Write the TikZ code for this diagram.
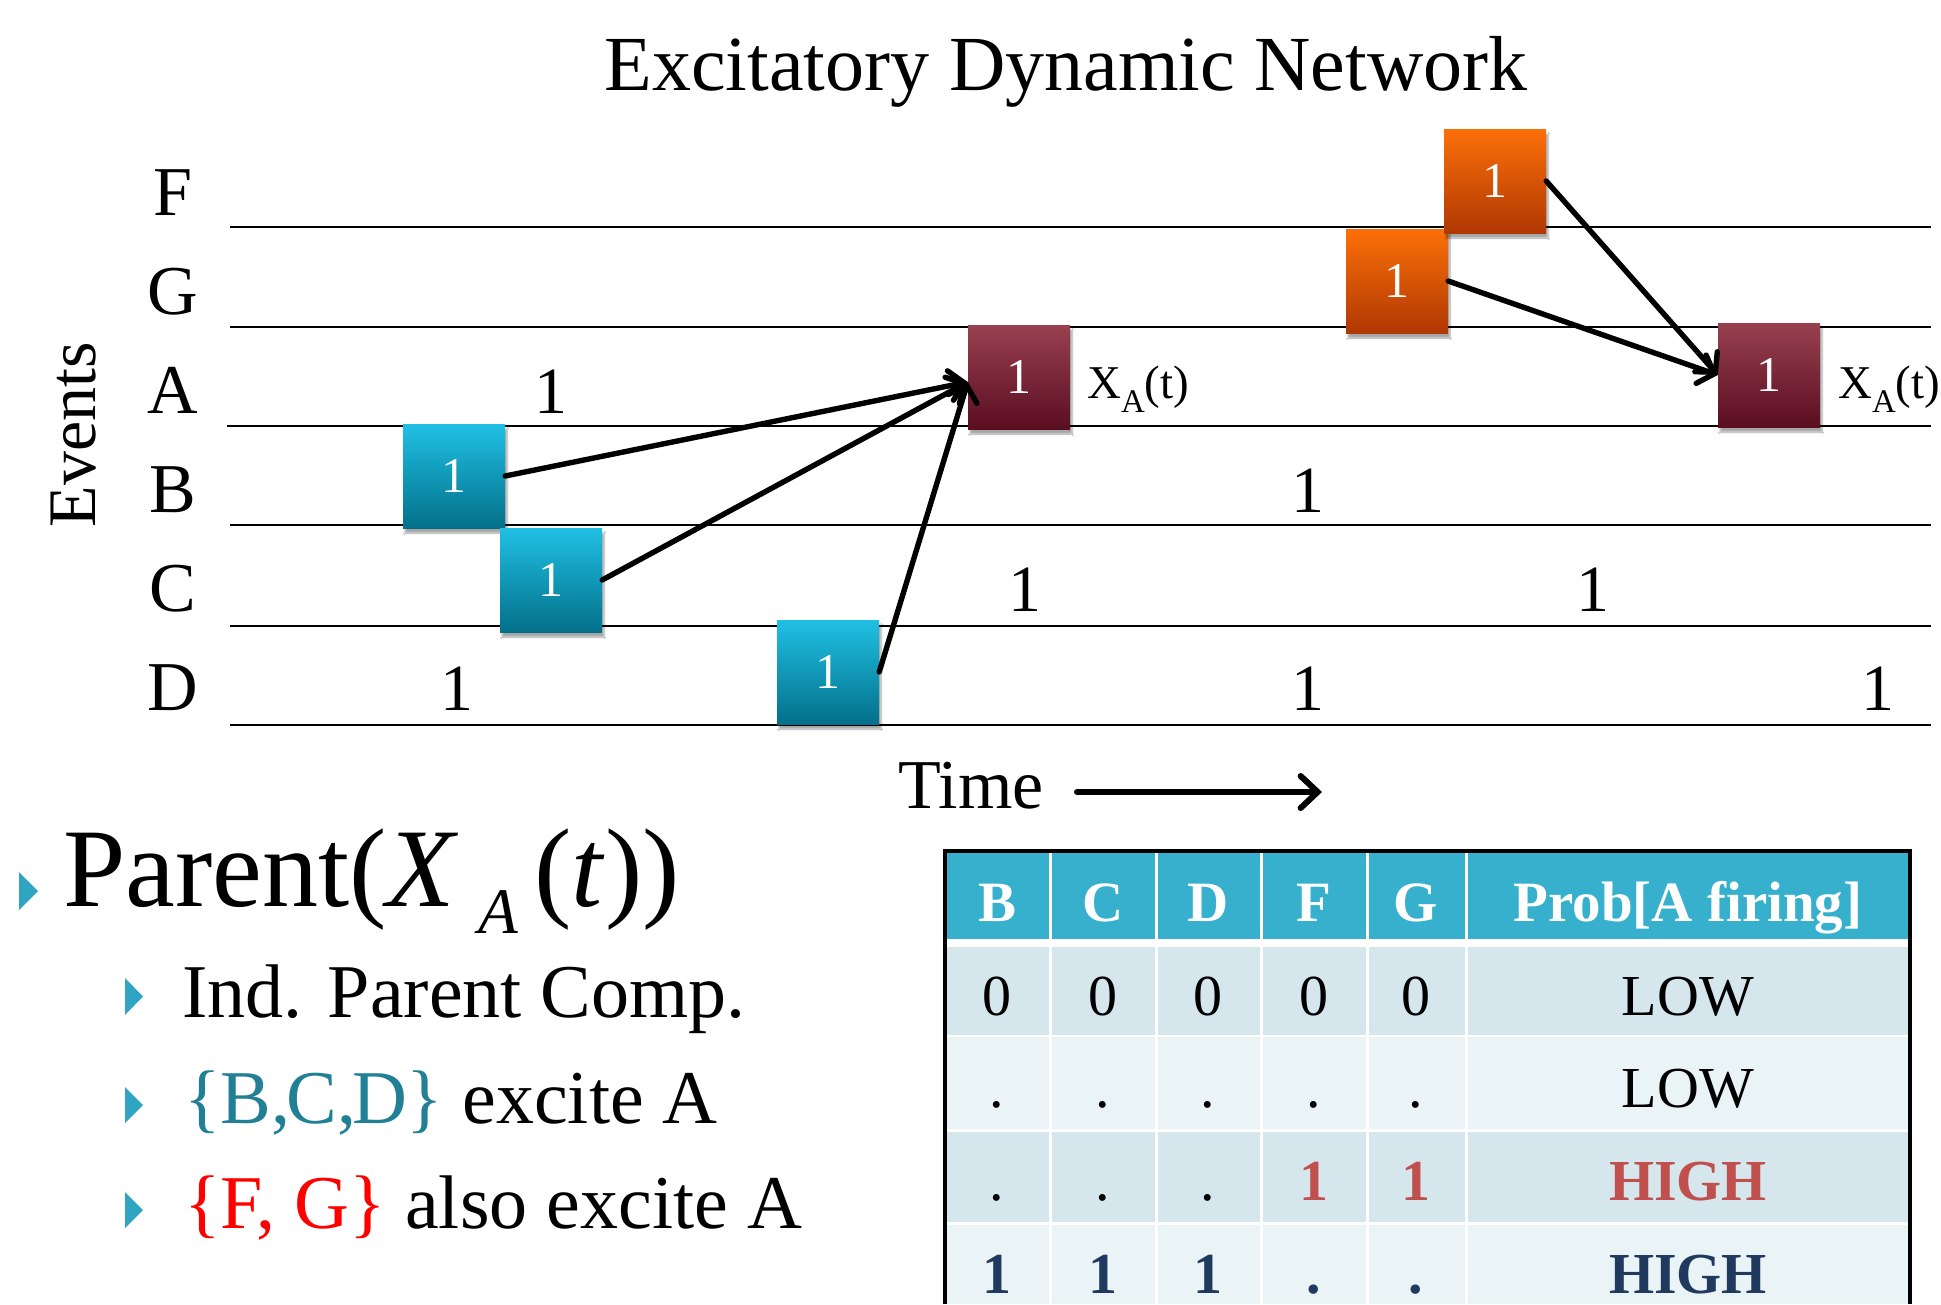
\documentclass[tikz,border=0pt]{standalone}
\usepackage{fontspec}
\setmainfont{Liberation Serif}
\usetikzlibrary{arrows.meta,shadows.blur}

\newcommand\fsz[1]{\fontsize{#1}{#1}\selectfont}

\definecolor{cyanTop}{RGB}{32,192,228}
\definecolor{cyanBot}{RGB}{3,112,138}
\definecolor{wineTop}{RGB}{152,64,80}
\definecolor{wineBot}{RGB}{90,14,32}
\definecolor{orTop}{RGB}{252,112,8}
\definecolor{orBot}{RGB}{176,56,4}
\definecolor{hdr}{RGB}{54,176,204}
\definecolor{rowA}{RGB}{213,230,237}
\definecolor{rowB}{RGB}{234,243,246}
\definecolor{bul}{RGB}{47,165,193}
\definecolor{setblue}{RGB}{33,128,150}
\definecolor{hired}{RGB}{192,80,77}
\definecolor{navy}{RGB}{31,58,94}

\tikzset{
  lane/.style={line width=2.8pt, black},
  evbox/.style={minimum width=102pt, minimum height=104pt, inner sep=0pt,
    text=white, font=\fsz{50},
    blur shadow={shadow xshift=2pt, shadow yshift=-5pt, shadow blur steps=6, shadow opacity=35}},
  cyanbox/.style={evbox, top color=cyanTop, bottom color=cyanBot},
  winebox/.style={evbox, top color=wineTop, bottom color=wineBot},
  orbox/.style={evbox, top color=orTop, bottom color=orBot},
  conn/.style={line width=5.4pt, line cap=round,
    -{Straight Barb[length=14pt, width=30pt, line cap=round]}},
  rowlbl/.style={anchor=base, inner sep=0pt, font=\fsz{70}},
  one/.style={anchor=base, inner sep=0pt, font=\fsz{66}},
  xlbl/.style={anchor=base west, inner sep=0pt, font=\fsz{47}},
  hdrtext/.style={anchor=base, inner sep=0pt, text=white, font=\bfseries\fsz{57}},
  cell/.style={anchor=base, inner sep=0pt, font=\fsz{58}},
  redcell/.style={cell, text=hired, font=\bfseries\fsz{58}},
  navycell/.style={cell, text=navy, font=\bfseries\fsz{58}},
  item/.style={anchor=base west, inner sep=0pt, font=\fsz{76}},
  gridw/.style={white, line width=3pt},
  frame/.style={black, line width=3.2pt},
}

\begin{document}
\begin{tikzpicture}[x=1pt, y=-1pt]
\useasboundingbox (0,0) rectangle (1941,1304);
\fill[white] (0,0) rectangle (1941,1304);

% title
\node[anchor=base, inner sep=0pt, font=\fsz{78}] (title) at (1066,90) {Excitatory Dynamic Network};

% event lanes
\draw[lane] (230,227) -- (1931,227);
\draw[lane] (230,327) -- (1931,327);
\draw[lane] (227,426) -- (1931,426);
\draw[lane] (230,525) -- (1931,525);
\draw[lane] (230,626) -- (1931,626);
\draw[lane] (230,725) -- (1931,725);

% axis labels
\node[rotate=90, inner sep=0pt, font=\fsz{68}] (events) at (74,435) {Events};
\node[rowlbl] (lF) at (173,215) {F};
\node[rowlbl] (lG) at (173,314) {G};
\node[rowlbl] (lA) at (173,413) {A};
\node[rowlbl] (lB) at (173,512) {B};
\node[rowlbl] (lC) at (173,611) {C};
\node[rowlbl] (lD) at (173,710) {D};

% background firings
\node[one] (oA1) at (551,413) {1};
\node[one] (oB1) at (1308,512) {1};
\node[one] (oC1) at (1025,611) {1};
\node[one] (oC2) at (1593,611) {1};
\node[one] (oD1) at (457,710) {1};
\node[one] (oD2) at (1308,710) {1};
\node[one] (oD3) at (1878,710) {1};

% highlighted firings
\node[cyanbox] (B) at (454,476) {1};
\node[cyanbox] (C) at (551,580) {1};
\node[cyanbox] (D) at (828,672) {1};
\node[winebox] (A1) at (1019,377) {1};
\node[orbox] (G) at (1397,281) {1};
\node[orbox] (F) at (1495,181) {1};
\node[winebox] (A2) at (1769,375) {1};

\node[xlbl] (xa1) at (1087,398) {X\raisebox{-14pt}{\fsz{33}A}(t)};
\node[xlbl] (xa2) at (1838,398) {X\raisebox{-14pt}{\fsz{33}A}(t)};

% excitation arrows
\coordinate (a1in) at ([yshift=-5pt]A1.west);
\draw[conn] (B.east) -- (a1in);
\draw[conn] (C.east) -- (a1in);
\draw[conn] (D.east) -- (a1in);
\draw[conn] (G.east) -- (A2.west);
\draw[conn] (F.east) -- (A2.west);

% time axis
\node[anchor=base, inner sep=0pt, font=\fsz{70}] (time) at (971,808) {Time};
\coordinate (t0) at (1077,792);
\coordinate (t1) at (1322,792);
\draw[line width=6pt, line cap=round, -{Straight Barb[length=17pt, width=32pt, line cap=round]}] (t0) -- (t1);

% bullet list
\fill[bul] (19,872) -- (19,910) -- (38,891) -- cycle;
\node[anchor=base west, inner sep=0pt, font=\fsz{112}] (parent) at (63,906)
  {Parent(\textit{X}\kern20pt\raisebox{-27pt}{\fsz{65}\textit{A}}\kern16pt(\textit{t}))};
\fill[bul] (125,978) -- (125,1015) -- (143,996.5) -- cycle;
\node[item] (it1) at (182,1017) {Ind. Parent Comp.};
\fill[bul] (125,1087) -- (125,1123) -- (143,1105) -- cycle;
\node[item] (it2) at (184,1123) {\textcolor{setblue}{\{B,\kern-4pt C,\kern-4pt D\}} excite A};
\fill[bul] (125,1192) -- (125,1228) -- (143,1210) -- cycle;
\node[item] (it3) at (184,1228) {\textcolor{red}{\{F, G\}} also excite A};

% table
\fill[hdr] (945,852) rectangle (1910,939);
\fill[rowA] (945,947) rectangle (1910,1035);
\fill[rowB] (945,1037) rectangle (1910,1129);
\fill[rowA] (945,1132) rectangle (1910,1222);
\fill[rowB] (945,1225) rectangle (1910,1304);
\foreach \gx in {1050,1156,1261,1367,1466}
  \draw[gridw] (\gx,852) -- (\gx,1304);
\draw[frame] (945,1304) -- (945,851) -- (1910,851) -- (1910,1304);

\foreach \cx/\t [count=\i] in {997/B,1103/C,1208/D,1314/F,1416/G,1688/{Prob[A firing]}}
  \node[hdrtext] (h\i) at (\cx,921) {\t};

\foreach \cx/\t [count=\i] in {997/0,1103/0,1208/0,1314/0,1416/0,1688/LOW}
  \node[cell] (ra\i) at (\cx,1015) {\t};

\foreach \cx/\t [count=\i] in {997/.,1103/.,1208/.,1314/.,1416/.,1688/LOW}
  \node[cell] (rb\i) at (\cx,1107) {\t};

\node[cell] (rc1) at (997,1200) {.};
\node[cell] (rc2) at (1103,1200) {.};
\node[cell] (rc3) at (1208,1200) {.};
\node[redcell] (rc4) at (1314,1200) {1};
\node[redcell] (rc5) at (1416,1200) {1};
\node[redcell] (rc6) at (1688,1200) {HIGH};

\node[navycell] (rd1) at (997,1293) {1};
\node[navycell] (rd2) at (1103,1293) {1};
\node[navycell] (rd3) at (1208,1293) {1};
\node[navycell] (rd4) at (1314,1293) {.};
\node[navycell] (rd5) at (1416,1293) {.};
\node[navycell] (rd6) at (1688,1293) {HIGH};
\end{tikzpicture}
\end{document}
